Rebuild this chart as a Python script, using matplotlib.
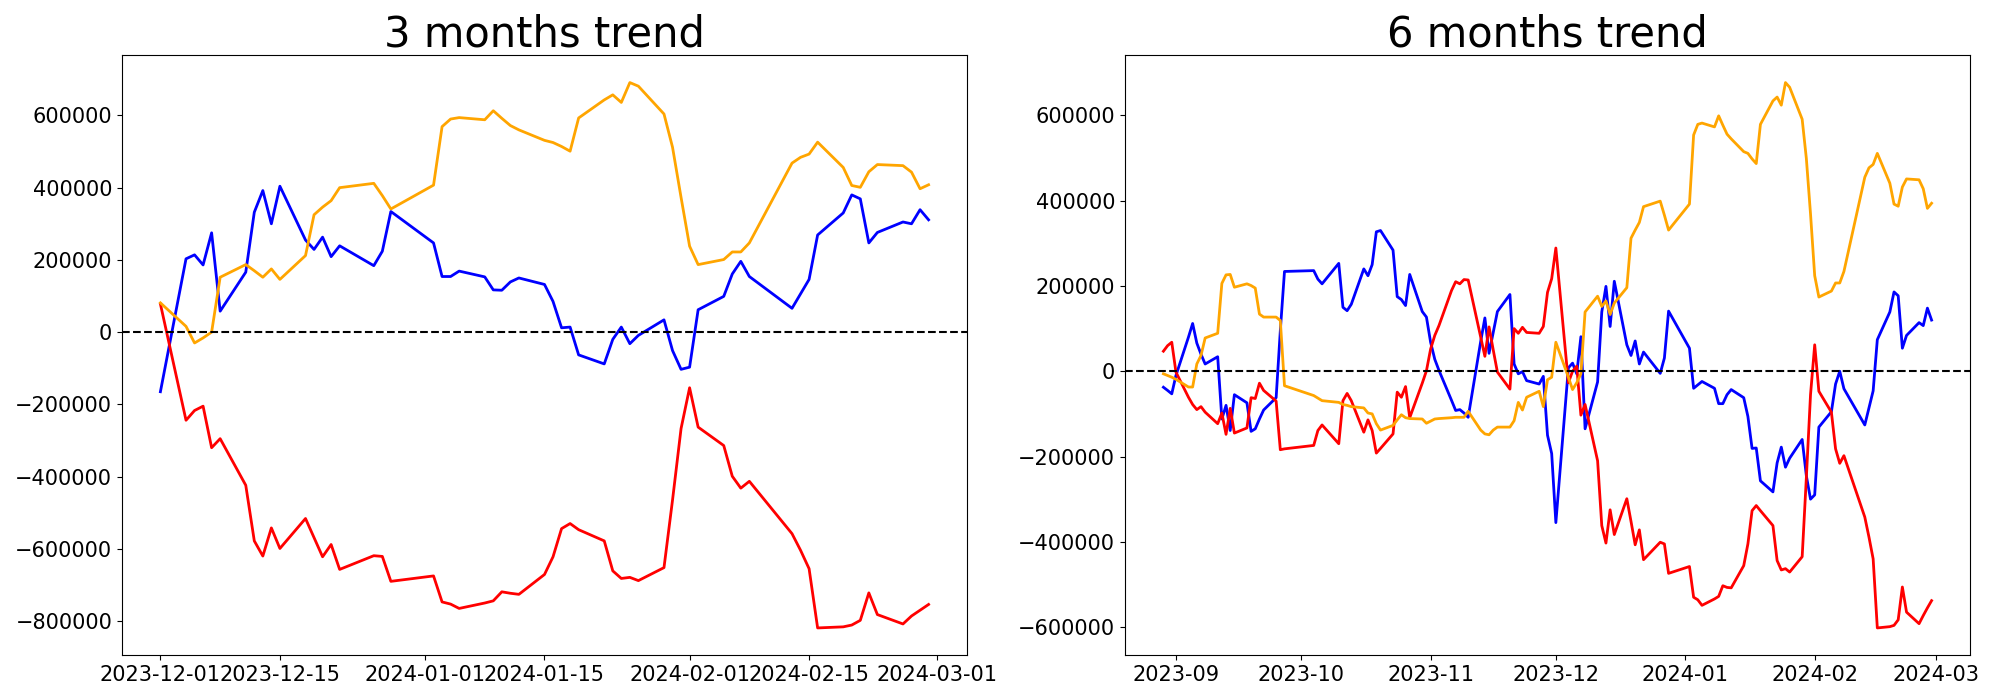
import numpy as np
import matplotlib
matplotlib.use("Agg")
import matplotlib.pyplot as plt
import matplotlib.dates as mdates
import pandas as pd

# KRX trading calendar (market closed on these weekdays)
krx_holidays = ["2023-09-28", "2023-09-29", "2023-10-02", "2023-10-03", "2023-10-09",
                "2023-12-25", "2023-12-29", "2024-01-01", "2024-02-09", "2024-02-12"]

dates_3m = pd.bdate_range("2023-12-01", "2024-02-29", freq="C", holidays=krx_holidays)
dates_6m = pd.bdate_range("2023-08-29", "2024-02-29", freq="C", holidays=krx_holidays)

# 3 months trend
blue_3m = [-165000, 203000, 214000, 186000, 275000, 58000,
           166000, 332000, 392000, 300000, 404000,
           255000, 229000, 263000, 209000, 239000,
           184000, 224000, 334000,
           247000, 154000, 154000, 169000,
           153000, 117000, 116000, 139000, 150000,
           132000, 85000, 12000, 14000, -63000,
           -88000, -20000, 14000, -32000, -9000,
           34000, -51000, -103000, -97000, 62000,
           99000, 161000, 196000, 154000,
           66000, 106000, 146000, 269000,
           330000, 380000, 369000, 247000, 276000,
           305000, 300000, 339000, 311000]
red_3m = [78000, -244000, -217000, -205000, -320000, -295000,
          -424000, -578000, -620000, -542000, -599000,
          -516000, -569000, -622000, -588000, -657000,
          -619000, -621000, -690000,
          -675000, -747000, -753000, -765000,
          -750000, -744000, -719000, -723000, -726000,
          -671000, -622000, -544000, -530000, -547000,
          -578000, -661000, -682000, -679000, -688000,
          -652000, -465000, -267000, -154000, -263000,
          -314000, -399000, -432000, -413000,
          -558000, -604000, -655000, -819000,
          -816000, -811000, -798000, -722000, -782000,
          -808000, -786000, -770000, -754000]
orange_3m = [81000, 16000, -30000, -16000, 0, 152000,
             187000, 170000, 152000, 175000, 146000,
             212000, 325000, 346000, 364000, 400000,
             412000, 378000, 341000,
             407000, 569000, 590000, 594000,
             588000, 613000, 592000, 572000, 560000,
             531000, 525000, 514000, 501000, 593000,
             643000, 657000, 636000, 691000, 681000,
             604000, 512000, 373000, 238000, 187000,
             201000, 222000, 222000, 247000,
             468000, 484000, 493000, 526000,
             456000, 406000, 401000, 444000, 464000,
             461000, 443000, 397000, 408000]

# 6 months trend
blue_6m = [-37500, -45000, -53000,
           -10000, 80000, 112000, 66000, 40000, 17000,
           34000, -112000, -80000, -139000, -55000,
           -74000, -141000, -135000, -112000, -91000,
           -62000, 95000, 234000,
           236000, 216000, 205000,
           253000, 150000, 142000, 157000,
           240000, 224000, 250000, 327000, 330000,
           284000, 175000, 168000, 154000, 227000,
           140000, 127000, 68000, 28000, 2000,
           -68000, -92000, -90000, -98000, -108000,
           70000, 125000, 42000, 91000, 140000,
           180000, 17000, -6000, -1000, -22000,
           -30000, -12000, -150000, -193000,
           -355000, 8000, 19000, -6000, 81000, -135000,
           -25000, 139000, 199000, 105000, 211000,
           62000, 37000, 71000, 17000, 45000,
           -5000, 31000, 141000,
           54000, -40000, -32000, -24000,
           -40000, -76000, -76000, -55000, -43000,
           -62000, -106000, -181000, -180000, -257000,
           -283000, -215000, -178000, -225000, -204000,
           -160000, -245000, -300000, -290000, -131000,
           -95000, -30000, 0, -41000,
           -126000, -86000, -46000, 74000,
           139000, 186000, 177000, 54000, 84000,
           114000, 107000, 148000, 120000]
red_6m = [47000, 60000, 68000,
          -2000, -61000, -78000, -90000, -83000, -96000,
          -123000, -98000, -148000, -87000, -145000,
          -133000, -62000, -64000, -28000, -45000,
          -70000, -184000, -182000,
          -174000, -139000, -126000,
          -170000, -69000, -52000, -69000,
          -143000, -114000, -139000, -192000, -181000,
          -147000, -49000, -61000, -36000, -109000,
          -28000, 1000, 52000, 84000, 107000,
          189000, 210000, 205000, 215000, 214000,
          80000, 35000, 104000, 50000, -2000,
          -42000, 100000, 89000, 103000, 91000,
          89000, 105000, 185000, 217000,
          289000, -27000, 0, 12000, -103000, -78000,
          -210000, -362000, -403000, -325000, -383000,
          -299000, -352000, -407000, -372000, -442000,
          -401000, -405000, -474000,
          -458000, -530000, -536000, -549000,
          -534000, -528000, -503000, -507000, -508000,
          -456000, -405000, -327000, -315000, -327000,
          -362000, -444000, -466000, -463000, -471000,
          -435000, -250000, -55000, 62000, -47000,
          -96000, -182000, -216000, -198000,
          -342000, -389000, -440000, -602000,
          -599000, -596000, -583000, -506000, -565000,
          -592000, -573000, -555000, -538000]
orange_6m = [-6000, -10000, -14000,
             -19000, -37000, -37000, 17000, 37000, 78000,
             89000, 206000, 226000, 227000, 197000,
             205000, 201000, 195000, 134000, 127000,
             127000, 119000, -34000,
             -57000, -63000, -69000,
             -73000, -78000, -80000, -83000,
             -86000, -98000, -100000, -123000, -138000,
             -127000, -114000, -102000, -109000, -111000,
             -112000, -122000, -117000, -112000, -111000,
             -109000, -108000, -108000, -108000, -94000,
             -138000, -147000, -149000, -138000, -131000,
             -131000, -116000, -73000, -91000, -61000,
             -47000, -83000, -20000, -14000,
             68000, -14000, -43000, -27000, -6000, 139000,
             176000, 152000, 165000, 133000, 160000,
             196000, 312000, 331000, 349000, 386000,
             399000, 366000, 331000,
             392000, 554000, 579000, 582000,
             573000, 599000, 577000, 556000, 545000,
             515000, 511000, 498000, 487000, 579000,
             634000, 643000, 624000, 677000, 666000,
             591000, 499000, 369000, 224000, 174000,
             188000, 207000, 207000, 234000,
             455000, 477000, 485000, 511000,
             441000, 392000, 387000, 432000, 451000,
             449000, 428000, 382000, 394000]

fig, axes = plt.subplots(1, 2, figsize=(20, 7), dpi=100)
fig.subplots_adjust(left=0.061, right=0.985, bottom=0.064, top=0.921, wspace=0.187)

panels = [(axes[0], dates_3m, blue_3m, red_3m, orange_3m, "3 months trend"),
          (axes[1], dates_6m, blue_6m, red_6m, orange_6m, "6 months trend")]

for ax, d, b, r, o, title in panels:
    ax.plot(d, b, color="blue", lw=2)
    ax.plot(d, r, color="red", lw=2)
    ax.plot(d, o, color="orange", lw=2)
    ax.axhline(0, color="black", linestyle="--", lw=1.5)
    ax.set_title(title, fontsize=30)
    ax.tick_params(labelsize=15)

axes[0].xaxis.set_major_locator(mdates.DayLocator(bymonthday=[1, 15]))
axes[0].xaxis.set_major_formatter(mdates.DateFormatter("%Y-%m-%d"))
axes[1].xaxis.set_major_locator(mdates.MonthLocator())
axes[1].xaxis.set_major_formatter(mdates.DateFormatter("%Y-%m"))

plt.savefig("out.png")
